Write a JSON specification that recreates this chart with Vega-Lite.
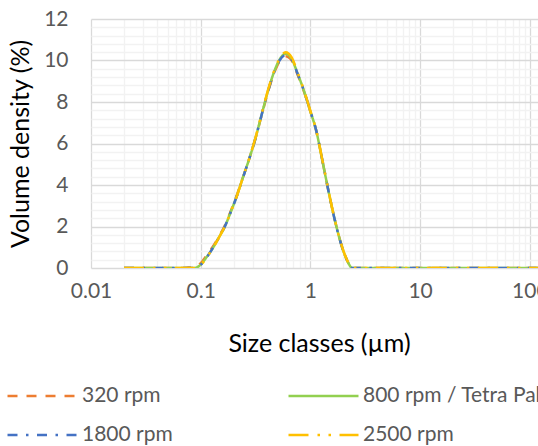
{
  "$schema": "https://vega.github.io/schema/vega-lite/v6.json",
  "autosize": {"type": "none"},
  "padding": {"left": 91, "top": 19, "right": 0, "bottom": 178},
  "width": 447,
  "height": 249,
  "background": "white",
  "config": {
    "view": {"stroke": null},
    "font": "Lato"
  },
  "datasets": {
    "curves": [
      {"series": "320 rpm", "size": 0.02, "density": 0},
      {"series": "320 rpm", "size": 0.0244, "density": 0},
      {"series": "320 rpm", "size": 0.0315, "density": 0},
      {"series": "320 rpm", "size": 0.0407, "density": 0},
      {"series": "320 rpm", "size": 0.0526, "density": 0},
      {"series": "320 rpm", "size": 0.0679, "density": 0},
      {"series": "320 rpm", "size": 0.0771, "density": 0.02},
      {"series": "320 rpm", "size": 0.0876, "density": 0.05},
      {"series": "320 rpm", "size": 0.0995, "density": 0.22},
      {"series": "320 rpm", "size": 0.113, "density": 0.6},
      {"series": "320 rpm", "size": 0.128, "density": 1.0},
      {"series": "320 rpm", "size": 0.146, "density": 1.5},
      {"series": "320 rpm", "size": 0.166, "density": 2.05},
      {"series": "320 rpm", "size": 0.188, "density": 2.75},
      {"series": "320 rpm", "size": 0.214, "density": 3.52},
      {"series": "320 rpm", "size": 0.243, "density": 4.38},
      {"series": "320 rpm", "size": 0.276, "density": 5.24},
      {"series": "320 rpm", "size": 0.314, "density": 6.2},
      {"series": "320 rpm", "size": 0.357, "density": 7.3},
      {"series": "320 rpm", "size": 0.405, "density": 8.38},
      {"series": "320 rpm", "size": 0.46, "density": 9.3},
      {"series": "320 rpm", "size": 0.523, "density": 9.96},
      {"series": "320 rpm", "size": 0.594, "density": 10.2},
      {"series": "320 rpm", "size": 0.675, "density": 10.0},
      {"series": "320 rpm", "size": 0.767, "density": 9.3},
      {"series": "320 rpm", "size": 0.872, "density": 8.52},
      {"series": "320 rpm", "size": 0.991, "density": 7.6},
      {"series": "320 rpm", "size": 1.13, "density": 6.62},
      {"series": "320 rpm", "size": 1.28, "density": 5.23},
      {"series": "320 rpm", "size": 1.45, "density": 3.8},
      {"series": "320 rpm", "size": 1.65, "density": 2.43},
      {"series": "320 rpm", "size": 1.88, "density": 1.27},
      {"series": "320 rpm", "size": 2.13, "density": 0.45},
      {"series": "320 rpm", "size": 2.42, "density": 0},
      {"series": "320 rpm", "size": 2.75, "density": 0},
      {"series": "320 rpm", "size": 3.55, "density": 0},
      {"series": "320 rpm", "size": 5.21, "density": 0},
      {"series": "320 rpm", "size": 7.64, "density": 0},
      {"series": "320 rpm", "size": 11.2, "density": 0},
      {"series": "320 rpm", "size": 16.4, "density": 0},
      {"series": "320 rpm", "size": 24.1, "density": 0},
      {"series": "320 rpm", "size": 35.3, "density": 0},
      {"series": "320 rpm", "size": 51.8, "density": 0},
      {"series": "320 rpm", "size": 76, "density": 0},
      {"series": "320 rpm", "size": 111, "density": 0},
      {"series": "320 rpm", "size": 163, "density": 0},

      {"series": "800 rpm / Tetra Pak", "size": 0.02, "density": 0},
      {"series": "800 rpm / Tetra Pak", "size": 0.0244, "density": 0},
      {"series": "800 rpm / Tetra Pak", "size": 0.0315, "density": 0},
      {"series": "800 rpm / Tetra Pak", "size": 0.0407, "density": 0},
      {"series": "800 rpm / Tetra Pak", "size": 0.0526, "density": 0},
      {"series": "800 rpm / Tetra Pak", "size": 0.0679, "density": 0},
      {"series": "800 rpm / Tetra Pak", "size": 0.0771, "density": 0},
      {"series": "800 rpm / Tetra Pak", "size": 0.0876, "density": 0},
      {"series": "800 rpm / Tetra Pak", "size": 0.0995, "density": 0.15},
      {"series": "800 rpm / Tetra Pak", "size": 0.113, "density": 0.52},
      {"series": "800 rpm / Tetra Pak", "size": 0.128, "density": 0.93},
      {"series": "800 rpm / Tetra Pak", "size": 0.146, "density": 1.46},
      {"series": "800 rpm / Tetra Pak", "size": 0.166, "density": 2.0},
      {"series": "800 rpm / Tetra Pak", "size": 0.188, "density": 2.7},
      {"series": "800 rpm / Tetra Pak", "size": 0.214, "density": 3.49},
      {"series": "800 rpm / Tetra Pak", "size": 0.243, "density": 4.37},
      {"series": "800 rpm / Tetra Pak", "size": 0.276, "density": 5.24},
      {"series": "800 rpm / Tetra Pak", "size": 0.314, "density": 6.21},
      {"series": "800 rpm / Tetra Pak", "size": 0.357, "density": 7.33},
      {"series": "800 rpm / Tetra Pak", "size": 0.405, "density": 8.42},
      {"series": "800 rpm / Tetra Pak", "size": 0.46, "density": 9.36},
      {"series": "800 rpm / Tetra Pak", "size": 0.523, "density": 10.04},
      {"series": "800 rpm / Tetra Pak", "size": 0.594, "density": 10.33},
      {"series": "800 rpm / Tetra Pak", "size": 0.675, "density": 10.08},
      {"series": "800 rpm / Tetra Pak", "size": 0.767, "density": 9.35},
      {"series": "800 rpm / Tetra Pak", "size": 0.872, "density": 8.55},
      {"series": "800 rpm / Tetra Pak", "size": 0.991, "density": 7.61},
      {"series": "800 rpm / Tetra Pak", "size": 1.13, "density": 6.62},
      {"series": "800 rpm / Tetra Pak", "size": 1.28, "density": 5.23},
      {"series": "800 rpm / Tetra Pak", "size": 1.45, "density": 3.8},
      {"series": "800 rpm / Tetra Pak", "size": 1.65, "density": 2.43},
      {"series": "800 rpm / Tetra Pak", "size": 1.88, "density": 1.26},
      {"series": "800 rpm / Tetra Pak", "size": 2.13, "density": 0.44},
      {"series": "800 rpm / Tetra Pak", "size": 2.42, "density": 0},
      {"series": "800 rpm / Tetra Pak", "size": 2.75, "density": 0},
      {"series": "800 rpm / Tetra Pak", "size": 3.55, "density": 0},
      {"series": "800 rpm / Tetra Pak", "size": 5.21, "density": 0},
      {"series": "800 rpm / Tetra Pak", "size": 7.64, "density": 0},
      {"series": "800 rpm / Tetra Pak", "size": 11.2, "density": 0},
      {"series": "800 rpm / Tetra Pak", "size": 16.4, "density": 0},
      {"series": "800 rpm / Tetra Pak", "size": 24.1, "density": 0},
      {"series": "800 rpm / Tetra Pak", "size": 35.3, "density": 0},
      {"series": "800 rpm / Tetra Pak", "size": 51.8, "density": 0},
      {"series": "800 rpm / Tetra Pak", "size": 76, "density": 0},
      {"series": "800 rpm / Tetra Pak", "size": 111, "density": 0},
      {"series": "800 rpm / Tetra Pak", "size": 163, "density": 0},

      {"series": "1800 rpm", "size": 0.02, "density": 0},
      {"series": "1800 rpm", "size": 0.0244, "density": 0},
      {"series": "1800 rpm", "size": 0.0315, "density": 0},
      {"series": "1800 rpm", "size": 0.0407, "density": 0},
      {"series": "1800 rpm", "size": 0.0526, "density": 0},
      {"series": "1800 rpm", "size": 0.0679, "density": 0},
      {"series": "1800 rpm", "size": 0.0771, "density": 0},
      {"series": "1800 rpm", "size": 0.0876, "density": 0},
      {"series": "1800 rpm", "size": 0.0995, "density": 0.14},
      {"series": "1800 rpm", "size": 0.113, "density": 0.5},
      {"series": "1800 rpm", "size": 0.128, "density": 0.93},
      {"series": "1800 rpm", "size": 0.146, "density": 1.45},
      {"series": "1800 rpm", "size": 0.166, "density": 2.0},
      {"series": "1800 rpm", "size": 0.188, "density": 2.7},
      {"series": "1800 rpm", "size": 0.214, "density": 3.48},
      {"series": "1800 rpm", "size": 0.243, "density": 4.36},
      {"series": "1800 rpm", "size": 0.276, "density": 5.23},
      {"series": "1800 rpm", "size": 0.314, "density": 6.2},
      {"series": "1800 rpm", "size": 0.357, "density": 7.32},
      {"series": "1800 rpm", "size": 0.405, "density": 8.4},
      {"series": "1800 rpm", "size": 0.46, "density": 9.33},
      {"series": "1800 rpm", "size": 0.523, "density": 10.0},
      {"series": "1800 rpm", "size": 0.594, "density": 10.26},
      {"series": "1800 rpm", "size": 0.675, "density": 10.05},
      {"series": "1800 rpm", "size": 0.767, "density": 9.34},
      {"series": "1800 rpm", "size": 0.872, "density": 8.55},
      {"series": "1800 rpm", "size": 0.991, "density": 7.62},
      {"series": "1800 rpm", "size": 1.13, "density": 6.63},
      {"series": "1800 rpm", "size": 1.28, "density": 5.24},
      {"series": "1800 rpm", "size": 1.45, "density": 3.8},
      {"series": "1800 rpm", "size": 1.65, "density": 2.42},
      {"series": "1800 rpm", "size": 1.88, "density": 1.25},
      {"series": "1800 rpm", "size": 2.13, "density": 0.43},
      {"series": "1800 rpm", "size": 2.42, "density": 0},
      {"series": "1800 rpm", "size": 2.75, "density": 0},
      {"series": "1800 rpm", "size": 3.55, "density": 0},
      {"series": "1800 rpm", "size": 5.21, "density": 0},
      {"series": "1800 rpm", "size": 7.64, "density": 0},
      {"series": "1800 rpm", "size": 11.2, "density": 0},
      {"series": "1800 rpm", "size": 16.4, "density": 0},
      {"series": "1800 rpm", "size": 24.1, "density": 0},
      {"series": "1800 rpm", "size": 35.3, "density": 0},
      {"series": "1800 rpm", "size": 51.8, "density": 0},
      {"series": "1800 rpm", "size": 76, "density": 0},
      {"series": "1800 rpm", "size": 111, "density": 0},
      {"series": "1800 rpm", "size": 163, "density": 0},

      {"series": "2500 rpm", "size": 0.02, "density": 0},
      {"series": "2500 rpm", "size": 0.0244, "density": 0},
      {"series": "2500 rpm", "size": 0.0315, "density": 0},
      {"series": "2500 rpm", "size": 0.0407, "density": 0},
      {"series": "2500 rpm", "size": 0.0526, "density": 0},
      {"series": "2500 rpm", "size": 0.0679, "density": 0},
      {"series": "2500 rpm", "size": 0.0771, "density": 0},
      {"series": "2500 rpm", "size": 0.0876, "density": 0},
      {"series": "2500 rpm", "size": 0.0995, "density": 0.13},
      {"series": "2500 rpm", "size": 0.113, "density": 0.5},
      {"series": "2500 rpm", "size": 0.128, "density": 0.92},
      {"series": "2500 rpm", "size": 0.146, "density": 1.45},
      {"series": "2500 rpm", "size": 0.166, "density": 2.0},
      {"series": "2500 rpm", "size": 0.188, "density": 2.7},
      {"series": "2500 rpm", "size": 0.214, "density": 3.48},
      {"series": "2500 rpm", "size": 0.243, "density": 4.37},
      {"series": "2500 rpm", "size": 0.276, "density": 5.25},
      {"series": "2500 rpm", "size": 0.314, "density": 6.23},
      {"series": "2500 rpm", "size": 0.357, "density": 7.36},
      {"series": "2500 rpm", "size": 0.405, "density": 8.46},
      {"series": "2500 rpm", "size": 0.46, "density": 9.4},
      {"series": "2500 rpm", "size": 0.523, "density": 10.08},
      {"series": "2500 rpm", "size": 0.594, "density": 10.4},
      {"series": "2500 rpm", "size": 0.675, "density": 10.15},
      {"series": "2500 rpm", "size": 0.767, "density": 9.4},
      {"series": "2500 rpm", "size": 0.872, "density": 8.58},
      {"series": "2500 rpm", "size": 0.991, "density": 7.63},
      {"series": "2500 rpm", "size": 1.13, "density": 6.64},
      {"series": "2500 rpm", "size": 1.28, "density": 5.25},
      {"series": "2500 rpm", "size": 1.45, "density": 3.82},
      {"series": "2500 rpm", "size": 1.65, "density": 2.44},
      {"series": "2500 rpm", "size": 1.88, "density": 1.27},
      {"series": "2500 rpm", "size": 2.13, "density": 0.45},
      {"series": "2500 rpm", "size": 2.42, "density": 0},
      {"series": "2500 rpm", "size": 2.75, "density": 0},
      {"series": "2500 rpm", "size": 3.55, "density": 0},
      {"series": "2500 rpm", "size": 5.21, "density": 0},
      {"series": "2500 rpm", "size": 7.64, "density": 0},
      {"series": "2500 rpm", "size": 11.2, "density": 0},
      {"series": "2500 rpm", "size": 16.4, "density": 0},
      {"series": "2500 rpm", "size": 24.1, "density": 0},
      {"series": "2500 rpm", "size": 35.3, "density": 0},
      {"series": "2500 rpm", "size": 51.8, "density": 0},
      {"series": "2500 rpm", "size": 76, "density": 0},
      {"series": "2500 rpm", "size": 111, "density": 0},
      {"series": "2500 rpm", "size": 163, "density": 0}
    ]
  },
  "data": {"name": "curves"},
  "encoding": {
    "x": {
      "field": "size",
      "type": "quantitative",
      "scale": {"type": "log", "domain": [0.01, 118.8], "nice": false},
      "axis": {
        "title": "Size classes (µm)",
        "values": [0.01,0.02,0.03,0.04,0.05,0.06,0.07,0.08,0.09,0.1,0.2,0.3,0.4,0.5,0.6,0.7,0.8,0.9,1,2,3,4,5,6,7,8,9,10,20,30,40,50,60,70,80,90,100],
        "format": "~g",
        "labelExpr": "indexof([0.01,0.1,1,10,100], datum.value) >= 0 ? datum.label : ''",
        "labelOverlap": false,
        "labelFlush": false,
        "labelFont": "Lato",
        "labelFontSize": 21,
        "labelColor": "#595959",
        "labelPadding": 12,
        "ticks": false,
        "tickSize": 0,
        "domain": false,
        "grid": true,
        "gridWidth": 1.3,
        "gridColor": {"condition": {"test": "indexof([0.01,0.1,1,10,100], datum.value) >= 0", "value": "#d9d9d9"}, "value": "#f2f2f2"},
        "titleFont": "Lato",
        "titleFontSize": 25,
        "titleFontWeight": "normal",
        "titleColor": "#000000",
        "titlePadding": 30,
        "titleX": 228
      }
    },
    "y": {
      "field": "density",
      "type": "quantitative",
      "scale": {"domain": [0, 12], "nice": false},
      "axis": {
        "title": "Volume density (%)",
        "values": [0,0.4,0.8,1.2,1.6,2,2.4,2.8,3.2,3.6,4,4.4,4.8,5.2,5.6,6,6.4,6.8,7.2,7.6,8,8.4,8.8,9.2,9.6,10,10.4,10.8,11.2,11.6,12],
        "format": "~g",
        "labelExpr": "indexof([0,2,4,6,8,10,12], datum.value) >= 0 ? datum.label : ''",
        "labelOverlap": false,
        "labelFont": "Lato",
        "labelFontSize": 21,
        "labelColor": "#595959",
        "labelPadding": 23,
        "ticks": false,
        "tickSize": 0,
        "domain": false,
        "grid": true,
        "gridWidth": 1.3,
        "gridColor": {"condition": {"test": "indexof([0,2,4,6,8,10,12], datum.value) >= 0", "value": "#d9d9d9"}, "value": "#f2f2f2"},
        "titleFont": "Lato",
        "titleFontSize": 25,
        "titleFontWeight": "normal",
        "titleColor": "#000000",
        "titlePadding": 10
      }
    },
    "color": {
      "field": "series",
      "type": "nominal",
      "scale": {
        "domain": ["320 rpm", "800 rpm / Tetra Pak", "1800 rpm", "2500 rpm"],
        "range": ["#ED7D31", "#92D050", "#4472C4", "#FFC000"]
      },
      "legend": {
        "title": null,
        "orient": "none",
        "direction": "horizontal",
        "legendX": -85,
        "legendY": 365,
        "columns": 2,
        "padding": 0,
        "symbolType": "stroke",
        "symbolSize": 4900,
        "symbolStrokeWidth": 2.5,
        "symbolOpacity": 1,
        "clipHeight": 24,
        "rowPadding": 15,
        "columnPadding": 114,
        "labelOffset": 3,
        "labelFont": "Lato",
        "labelFontSize": 21,
        "labelColor": "#595959",
        "labelLimit": 400
      }
    },
    "strokeDash": {
      "field": "series",
      "type": "nominal",
      "scale": {
        "domain": ["320 rpm", "800 rpm / Tetra Pak", "1800 rpm", "2500 rpm"],
        "range": [[10, 9], [1, 0], [10, 8.5, 2.5, 8.5], [20, 9, 2.5, 8.5, 2.5, 8.5]]
      },
      "legend": {
        "title": null,
        "orient": "none",
        "direction": "horizontal",
        "legendX": -85,
        "legendY": 365,
        "columns": 2,
        "padding": 0,
        "symbolType": "stroke",
        "symbolSize": 4900,
        "symbolStrokeWidth": 2.5,
        "symbolOpacity": 1,
        "clipHeight": 24,
        "rowPadding": 15,
        "columnPadding": 114,
        "labelOffset": 3,
        "labelFont": "Lato",
        "labelFontSize": 21,
        "labelColor": "#595959",
        "labelLimit": 400
      }
    }
  },
  "layer": [
    {"transform": [{"filter": "datum.series == '320 rpm'"}], "mark": {"type": "line", "interpolate": "monotone", "strokeWidth": 2.5, "clip": true}},
    {"transform": [{"filter": "datum.series == '800 rpm / Tetra Pak'"}], "mark": {"type": "line", "interpolate": "monotone", "strokeWidth": 2.5, "clip": true}},
    {"transform": [{"filter": "datum.series == '1800 rpm'"}], "mark": {"type": "line", "interpolate": "monotone", "strokeWidth": 2.5, "clip": true}},
    {"transform": [{"filter": "datum.series == '2500 rpm'"}], "mark": {"type": "line", "interpolate": "monotone", "strokeWidth": 2.5, "clip": true}}
  ]
}
